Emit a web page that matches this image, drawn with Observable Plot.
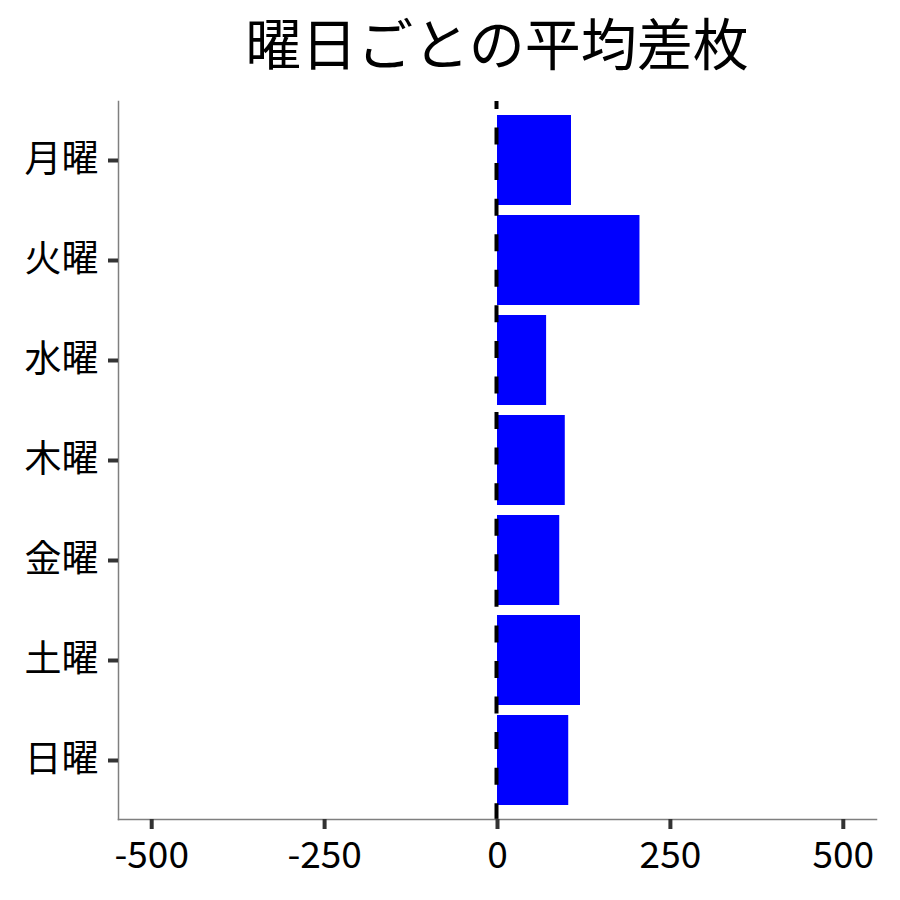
<!DOCTYPE html>
<html>
<head>
<meta charset="utf-8">
<script src="https://cdn.jsdelivr.net/npm/d3@7"></script>
<script src="https://cdn.jsdelivr.net/npm/@observablehq/plot@0.6"></script>
<style>
  html, body { margin: 0; padding: 0; background: #fff; }
  #wrap { width: 900px; height: 900px; font-family: "Noto Sans CJK JP", sans-serif; }
  #title { height: 90px; line-height: 82px; text-align: center; font-size: 56px; color: #000; padding-left: 94px; box-sizing: border-box; width: 900px; overflow: hidden; }
  #chart svg { display: block; }
</style>
</head>
<body>
<div id="wrap">
  <div id="title">曜日ごとの平均差枚</div>
  <div id="chart"></div>
</div>
<script>
const days = ["月曜", "火曜", "水曜", "木曜", "金曜", "土曜", "日曜"];
const avgDiff = [107, 206, 71, 98, 90, 120, 103];
const xTicks = [-500, -250, 0, 250, 500];
const xDomain = [-548, 548];

const data = days.map((d, i) => ({day: d, value: avgDiff[i]}));

const chart = Plot.plot({
  width: 900,
  height: 810,
  marginTop: 11,
  marginBottom: 81,
  marginLeft: 118,
  marginRight: 24,
  style: {fontFamily: "Noto Sans CJK JP, sans-serif", background: "#fff"},
  x: {domain: xDomain, ticks: xTicks},
  y: {domain: days, paddingInner: 0.1, paddingOuter: 0.14, round: false},
  marks: [
    Plot.barX(data, {x: "value", y: "day", fill: "#0000ff"}),
    Plot.ruleX([0], {stroke: "#000", strokeWidth: 4, strokeDasharray: "17,18.56", strokeDashoffset: 9, dx: -1}),
    Plot.frame({anchor: "left", stroke: "#7f7f7f", strokeWidth: 1.5}),
    Plot.frame({anchor: "bottom", stroke: "#7f7f7f", strokeWidth: 1.5}),
    Plot.axisX({ticks: xTicks, tickSize: 10, tickPadding: 12, fontSize: 37, stroke: "#333", strokeWidth: 4, strokeOpacity: 1, color: "#000", label: null, tickFormat: d => String(d)}),
    Plot.axisY({tickSize: 10, tickPadding: 10, fontSize: 37, stroke: "#333", strokeWidth: 4, strokeOpacity: 1, color: "#000", label: null})
  ]
});
document.getElementById("chart").appendChild(chart);
</script>
</body>
</html>
